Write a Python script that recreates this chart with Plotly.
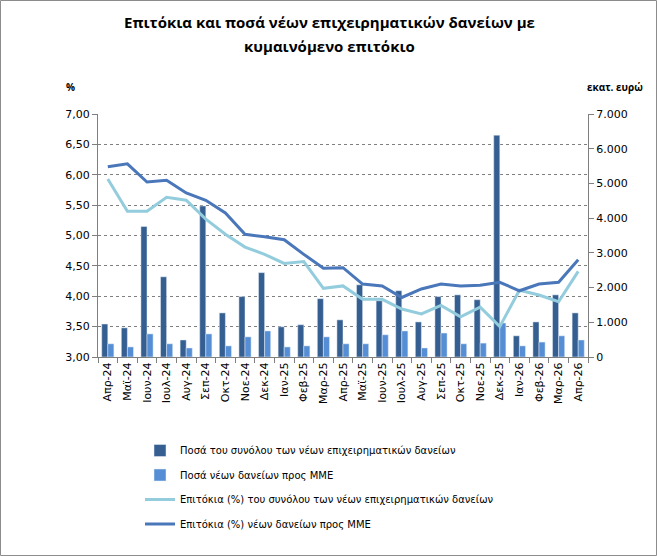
import plotly.graph_objects as go

months = ["Απρ-24", "Μαϊ-24", "Ιουν-24", "Ιουλ-24", "Αυγ-24", "Σεπ-24", "Οκτ-24", "Νοε-24",
          "Δεκ-24", "Ιαν-25", "Φεβ-25", "Μαρ-25", "Απρ-25", "Μαϊ-25", "Ιουν-25", "Ιουλ-25",
          "Αυγ-25", "Σεπ-25", "Οκτ-25", "Νοε-25", "Δεκ-25", "Ιαν-26", "Φεβ-26", "Μαρ-26", "Απρ-26"]

amount_total = [950, 840, 3760, 2310, 490, 4350, 1270, 1740, 2430, 870, 930, 1680, 1070,
                2080, 1620, 1910, 1010, 1740, 1790, 1650, 6390, 610, 1010, 1790, 1270]
amount_sme = [380, 290, 665, 380, 260, 665, 320, 580, 750, 290, 320, 580, 380,
              380, 640, 750, 260, 690, 380, 400, 980, 320, 430, 610, 490]
rate_total = [5.93, 5.40, 5.40, 5.63, 5.58, 5.27, 5.02, 4.81, 4.69, 4.54, 4.57, 4.13, 4.17,
              3.95, 3.95, 3.79, 3.71, 3.85, 3.66, 3.82, 3.50, 4.10, 4.02, 3.91, 4.41]
rate_sme = [6.13, 6.18, 5.88, 5.91, 5.70, 5.58, 5.37, 5.02, 4.98, 4.93, 4.69, 4.46, 4.47,
            4.20, 4.17, 3.98, 4.12, 4.20, 4.17, 4.18, 4.23, 4.09, 4.20, 4.23, 4.60]

names = ["Ποσά του συνόλου των νέων επιχειρηματικών δανείων",
         "Ποσά νέων δανείων προς ΜΜΕ",
         "Επιτόκια (%) του συνόλου των νέων επιχειρηματικών δανείων",
         "Επιτόκια (%) νέων δανείων προς ΜΜΕ"]
title_lines = ["Επιτόκια και ποσά νέων επιχειρηματικών δανείων με", "κυμαινόμενο επιτόκιο"]

TICKFONT = dict(family="DejaVu Sans", size=11, color="#000000")
GRID = "#7f7f7f"

fig = go.Figure()
fig.add_trace(go.Bar(x=months, y=amount_total, name=names[0], marker_color="#365F91",
                     yaxis="y", legendgroup="a"))
fig.add_trace(go.Bar(x=months, y=amount_sme, name=names[1], marker_color="#558ED5",
                     yaxis="y", legendgroup="b"))
fig.add_trace(go.Scatter(x=months, y=rate_total, name=names[2], mode="lines",
                         line=dict(color="#93CDDD", width=3), yaxis="y2", legendgroup="c"))
fig.add_trace(go.Scatter(x=months, y=rate_sme, name=names[3], mode="lines",
                         line=dict(color="#4A77BA", width=3), yaxis="y2", legendgroup="d"))

L, R, T, B = 98, 69, 114, 199
W, H = 657, 556
pw, ph = W - L - R, H - T - B

def px(x):
    return (x - L) / pw

def py(y):
    return (H - B - y) / ph

TITLEFONT = dict(family="Open Sans", size=15, color="#000000")

fig.update_layout(
    width=W, height=H,
    margin=dict(l=L, r=R, t=T, b=B, pad=0),
    paper_bgcolor="white", plot_bgcolor="white",
    separators=",.",
    barmode="group", bargap=0.38, bargroupgap=0,
    font=dict(family="DejaVu Sans", size=11, color="#000000"),
    xaxis=dict(type="category", tickangle=-90, tickfont=TICKFONT, showline=True,
               linecolor=GRID, linewidth=1, ticks="outside", ticklen=5, tickcolor=GRID,
               tickson="boundaries", showgrid=False, fixedrange=True),
    yaxis=dict(side="right", range=[0, 7000], dtick=1000, tickformat=",d",
               tickfont=TICKFONT, showgrid=False, showline=True, linecolor=GRID,
               ticks="outside", ticklen=5, tickcolor=GRID, zeroline=False),
    yaxis2=dict(side="left", overlaying="y", range=[3, 7], dtick=0.5, tickformat=".2f",
                tickfont=TICKFONT, showgrid=True, gridcolor=GRID, griddash="dot",
                gridwidth=1, showline=True, linecolor=GRID, ticks="outside", ticklen=5,
                tickcolor=GRID, zeroline=False),
    showlegend=True,
    legend=dict(x=px(140), xanchor="left", y=py(436), yanchor="top", orientation="v",
                font=dict(family="DejaVu Sans", size=10, color="#000000"),
                tracegroupgap=5.5, bgcolor="rgba(0,0,0,0)", traceorder="grouped"),
    annotations=[
        dict(text="<b>" + title_lines[0] + "</b>", x=px(329), y=py(22), xref="paper", yref="paper",
             showarrow=False, xanchor="center", yanchor="middle", font=TITLEFONT),
        dict(text="<b>" + title_lines[1] + "</b>", x=px(329), y=py(46), xref="paper", yref="paper",
             showarrow=False, xanchor="center", yanchor="middle", font=TITLEFONT),
        dict(text="<b>%</b>", x=px(70), y=py(87), xref="paper", yref="paper",
             showarrow=False, xanchor="center", yanchor="middle",
             font=dict(family="Open Sans", size=10, color="#000000")),
        dict(text="<b>εκατ. ευρώ</b>", x=px(615), y=py(87), xref="paper", yref="paper",
             showarrow=False, xanchor="center", yanchor="middle",
             font=dict(family="Open Sans", size=10, color="#000000")),
    ],
    shapes=[dict(type="rect", xref="paper", yref="paper",
                 x0=px(0.5), x1=px(W - 0.5), y0=py(H - 0.5), y1=py(0.5),
                 line=dict(color="#8c8c8c", width=1), fillcolor="rgba(0,0,0,0)", layer="below")],
)

fig.write_html("out.html")
